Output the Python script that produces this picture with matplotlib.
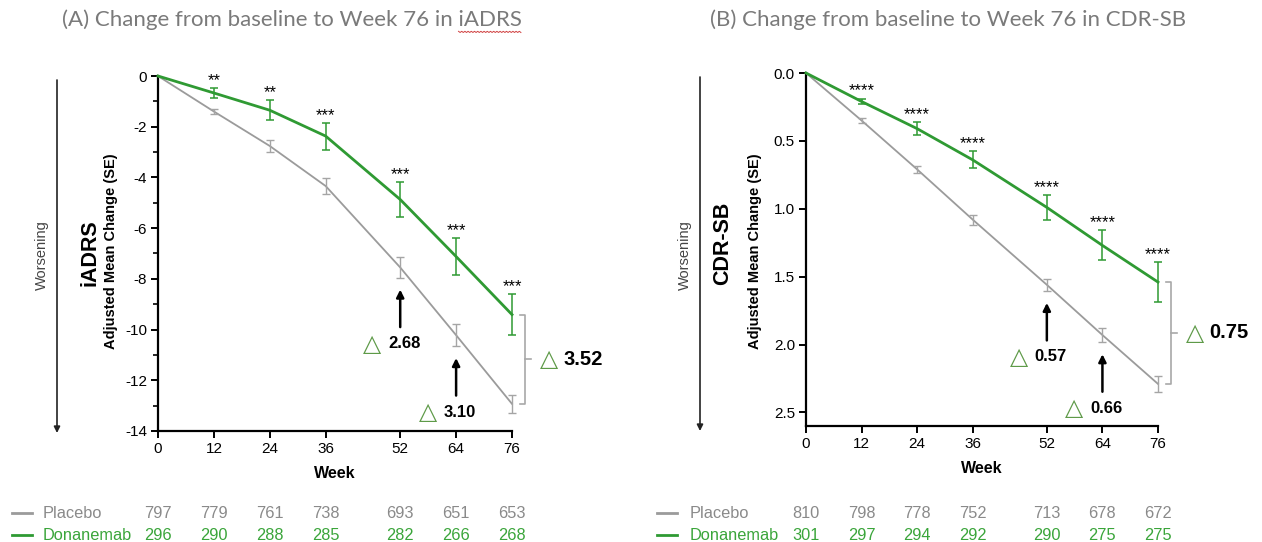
import matplotlib
matplotlib.use("Agg")
import matplotlib.pyplot as plt
import matplotlib.transforms as mtransforms
from matplotlib.lines import Line2D
from matplotlib.patches import FancyArrowPatch
from matplotlib.ticker import MultipleLocator, FormatStrFormatter

plt.rcParams["font.family"] = ["Liberation Sans", "DejaVu Sans"]
plt.rcParams["axes.unicode_minus"] = False

W, H = 1262, 542

weeks = [0, 12, 24, 36, 52, 64, 76]

iadrs_placebo = [0, -1.40, -2.76, -4.34, -7.55, -10.22, -12.93]
iadrs_placebo_se = [0, 0.10, 0.25, 0.33, 0.40, 0.43, 0.35]
iadrs_dona = [0, -0.67, -1.35, -2.37, -4.87, -7.12, -9.41]
iadrs_dona_se = [0, 0.20, 0.40, 0.53, 0.70, 0.72, 0.82]
iadrs_sig = ["", "**", "**", "***", "***", "***", "***"]

cdr_placebo = [0, 0.35, 0.71, 1.08, 1.56, 1.93, 2.29]
cdr_placebo_se = [0, 0.015, 0.027, 0.037, 0.045, 0.053, 0.060]
cdr_dona = [0, 0.21, 0.41, 0.64, 0.99, 1.27, 1.54]
cdr_dona_se = [0, 0.022, 0.047, 0.062, 0.090, 0.110, 0.145]
cdr_sig = ["", "****", "****", "****", "****", "****", "****"]

iadrs_n_placebo = [797, 779, 761, 738, 693, 651, 653]
iadrs_n_dona = [296, 290, 288, 285, 282, 266, 268]
cdr_n_placebo = [810, 798, 778, 752, 713, 678, 672]
cdr_n_dona = [301, 297, 294, 292, 290, 275, 275]

delta_weeks = [52, 64]

GREEN = "#2f9a33"
GREEN_TXT = "#3aa53a"
TRI = "#5e9a48"
GRAY = "#9b9b9b"
GRAY_TXT = "#8a8a8a"
TITLE = "#7a7a7a"


def fx(px):
    return px / W


def fy(py):
    return 1 - py / H


def add_axes_px(fig, x0, y0, x1, y1):
    return fig.add_axes([fx(x0), fy(y1), (x1 - x0) / W, (y1 - y0) / H])


def shifted(ax, fig, dx, dy):
    return mtransforms.offset_copy(ax.transData, fig=fig, x=dx, y=dy, units="dots")


def panel(fig, ax, placebo, p_se, dona, d_se, sig):
    ax.plot(weeks, placebo, color=GRAY, lw=1.3, clip_on=False, zorder=3)
    ax.errorbar(weeks[1:], placebo[1:], yerr=p_se[1:], fmt="none", ecolor="#a5a5a5",
                elinewidth=1.0, capsize=3, capthick=1.0, clip_on=False, zorder=3)
    ax.plot(weeks, dona, color=GREEN, lw=2.0, clip_on=False, zorder=4)
    ax.errorbar(weeks[1:], dona[1:], yerr=d_se[1:], fmt="none", ecolor=GREEN,
                elinewidth=1.1, capsize=3, capthick=1.1, clip_on=False, zorder=4)

    inv = ax.yaxis_inverted()
    for w, d, s, lab in zip(weeks, dona, d_se, sig):
        if lab:
            top = d - s if inv else d + s
            ax.text(w, top, lab, transform=shifted(ax, fig, 0, 0), ha="center",
                    va="bottom", fontsize=12)

    for w in delta_weeks:
        i = weeks.index(w)
        bottom = placebo[i] + p_se[i] if inv else placebo[i] - p_se[i]
        diff = abs(placebo[i] - dona[i])
        ax.annotate("", xy=(w, bottom), xycoords=shifted(ax, fig, 0, -12),
                    xytext=(0, -27), textcoords="offset points",
                    arrowprops=dict(arrowstyle="-|>", color="black", lw=1.8,
                                    mutation_scale=11, shrinkA=0, shrinkB=0))
        ax.text(w, bottom, "\u25b3", transform=shifted(ax, fig, -28, -66),
                ha="center", va="center", fontsize=17, color=TRI, family="DejaVu Sans")
        ax.text(w, bottom, f"{diff:.2f}", transform=shifted(ax, fig, -12, -66),
                ha="left", va="center", fontsize=12, fontweight="bold")

    # bracket at the last visit
    wk_per_px = weeks[-1] / (ax.get_position().width * W)
    xv = weeks[-1] + 13 * wk_per_px
    d_end, p_end = dona[-1], placebo[-1]
    mid = (d_end + p_end) / 2
    bk = dict(color="#a8a8a8", lw=1.2, clip_on=False)
    ax.plot([xv - 5 * wk_per_px, xv, xv, xv - 5 * wk_per_px],
            [d_end, d_end, p_end, p_end], **bk)
    ax.plot([xv, xv + 6 * wk_per_px], [mid, mid], **bk)
    ax.text(weeks[-1] + 37 * wk_per_px, mid, "\u25b3", ha="center", va="center",
            fontsize=17, color=TRI, family="DejaVu Sans", clip_on=False)
    ax.text(weeks[-1] + 51 * wk_per_px, mid, f"{abs(p_end - d_end):.2f}", ha="left",
            va="center", fontsize=14.5, fontweight="bold", clip_on=False)

    ax.set_xlim(0, 76)
    ax.set_xticks(weeks)
    for sp in ("top", "right"):
        ax.spines[sp].set_visible(False)
    for sp in ("left", "bottom"):
        ax.spines[sp].set_linewidth(1.6)
    ax.tick_params(which="major", length=5, width=1.4, labelsize=11, pad=3)
    ax.tick_params(which="minor", length=3.5, width=1.2)
    ax.set_xlabel("Week", fontsize=11.5, fontweight="bold", labelpad=7)


def at_risk(fig, ax, n_placebo, n_dona, x_line, x_text):
    tr = mtransforms.blended_transform_factory(ax.transData, fig.transFigure)
    for y, label, ns, lc, tc in [(513, "Placebo", n_placebo, GRAY, GRAY_TXT),
                                 (535, "Donanemab", n_dona, GREEN, GREEN_TXT)]:
        fig.add_artist(Line2D([fx(x_line), fx(x_line + 20)], [fy(y), fy(y)],
                              color=lc, lw=2.0))
        fig.text(fx(x_text), fy(y), label, ha="left", va="center", fontsize=11.8, color=tc)
        for w, n in zip(weeks, ns):
            ax.text(w, fy(y), str(n), transform=tr, ha="center", va="center",
                    fontsize=11.8, color=tc, clip_on=False)


def side_labels(fig, x_arrow, y_top, y_bot, x_wors, x_name, x_lab, name, y_name):
    fig.add_artist(FancyArrowPatch((fx(x_arrow), fy(y_top)), (fx(x_arrow), fy(y_bot)),
                                   transform=fig.transFigure, arrowstyle="-|>",
                                   mutation_scale=9, lw=1.2, color="#222222",
                                   shrinkA=0, shrinkB=0))
    fig.text(fx(x_wors), fy(255), "Worsening", rotation=90, ha="center", va="center",
             fontsize=10.5, color="#444444")
    fig.text(fx(x_name), fy(y_name), name, rotation=90, ha="center", va="center",
             fontsize=15.5, fontweight="bold")
    fig.text(fx(x_lab), fy(251), "Adjusted Mean Change (SE)", rotation=90,
             ha="center", va="center", fontsize=10.5, fontweight="bold")


fig = plt.figure(figsize=(W / 100, H / 100), dpi=100)

ax_a = add_axes_px(fig, 158, 76, 512, 431)
ax_a.set_ylim(-14, 0)
ax_a.yaxis.set_major_locator(MultipleLocator(2))
ax_a.yaxis.set_minor_locator(MultipleLocator(1))
panel(fig, ax_a, iadrs_placebo, iadrs_placebo_se, iadrs_dona, iadrs_dona_se, iadrs_sig)
at_risk(fig, ax_a, iadrs_n_placebo, iadrs_n_dona, 12, 43)
side_labels(fig, 57, 80, 433, 42, 90, 111, "iADRS", 253)

ax_b = add_axes_px(fig, 806, 73, 1158, 426)
ax_b.set_ylim(2.6, 0)
ax_b.set_yticks([0, 0.5, 1.0, 1.5, 2.0, 2.5])
ax_b.yaxis.set_major_formatter(FormatStrFormatter("%.1f"))
panel(fig, ax_b, cdr_placebo, cdr_placebo_se, cdr_dona, cdr_dona_se, cdr_sig)
at_risk(fig, ax_b, cdr_n_placebo, cdr_n_dona, 657, 690)
side_labels(fig, 700, 77, 431, 685, 723, 755, "CDR-SB", 243)

t_a = fig.text(fx(62), fy(20), "(A) Change from baseline to Week 76 in iADRS",
               ha="left", va="center", fontsize=16, color=TITLE, family="Lato")
fig.text(fx(710), fy(20), "(B) Change from baseline to Week 76 in CDR-SB",
         ha="left", va="center", fontsize=16, color=TITLE, family="Lato")

# spell-check squiggle under "iADRS" in the left title
renderer = fig.canvas.get_renderer()
bb = t_a.get_window_extent(renderer)
tmp = fig.text(0, 0, "iADRS", fontsize=16, family="Lato")
wd = tmp.get_window_extent(renderer).width
tmp.remove()
xs, ys = [], []
x = bb.x1 - wd
k = 0
while x <= bb.x1:
    xs.append(x / W)
    ys.append((bb.y0 - 1 - (1.2 if k % 2 else 0)) / H)
    x += 1.6
    k += 1
fig.add_artist(Line2D(xs, ys, color="#d04040", lw=0.7))

fig.savefig("out.png", dpi=100, facecolor="white")
